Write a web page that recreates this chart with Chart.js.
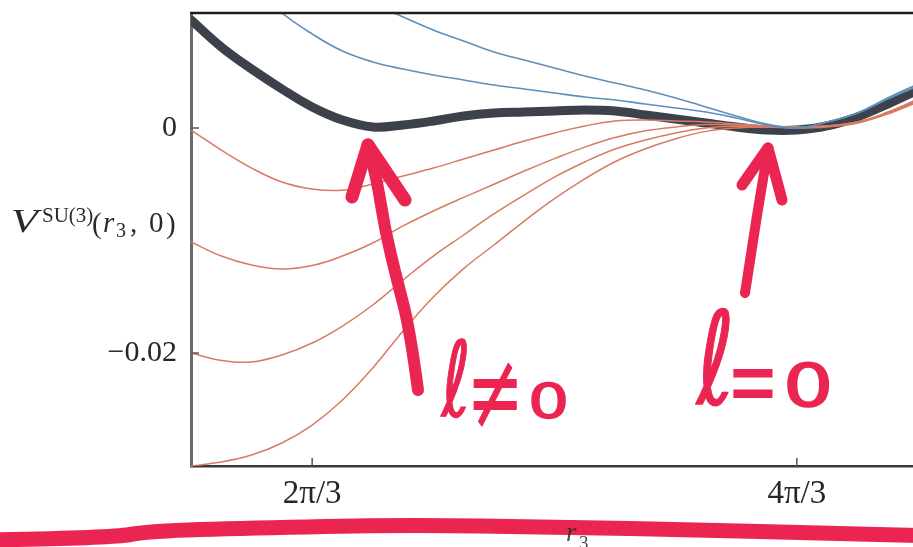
<!DOCTYPE html>
<html><head><meta charset="utf-8">
<script src="https://cdn.jsdelivr.net/npm/chart.js@4/dist/chart.umd.min.js"></script>
<style>
html,body{margin:0;padding:0;background:#fff;overflow:hidden;width:913px;height:547px}
#wrap{position:relative;width:930px;height:547px}
canvas{display:block}
</style></head>
<body><div id="wrap"><canvas id="c" width="930" height="547"></canvas></div>
<script>
// r3 sample positions (radians), from pi/2 to 3pi/2
const r3 = [1.5708, 1.7017, 1.8326, 1.9635, 2.0944, 2.2253, 2.3562, 2.4871, 2.6180, 2.7489,
            2.8798, 3.0107, 3.1416, 3.2725, 3.4034, 3.5343, 3.6652, 3.7961, 3.9270, 4.0579,
            4.1888, 4.3197, 4.4506, 4.5815, 4.7124];
// thick dark curve
const vBlack = [0.00960, 0.00720, 0.00524, 0.00347, 0.00187, 0.00071, 0.00009, 0.00027, 0.00062, 0.00107,
                0.00133, 0.00142, 0.00151, 0.00160, 0.00151, 0.00116, 0.00080, 0.00044, 0.00009, -0.00018,
                -0.00018, 0.00018, 0.00098, 0.00213, 0.00338];
// blue curves (above)
const vBlue1 = [0.01804, 0.01538, 0.01271, 0.01022, 0.00836, 0.00684, 0.00587, 0.00524, 0.00471, 0.00427,
                0.00382, 0.00347, 0.00311, 0.00276, 0.00249, 0.00213, 0.00178, 0.00142, 0.00089, 0.00027,
                0.00000, 0.00053, 0.00133, 0.00258, 0.00373];
const vBlue2 = [0.02071, 0.01893, 0.01716, 0.01547, 0.01387, 0.01244, 0.01111, 0.00987, 0.00871, 0.00773,
                0.00676, 0.00604, 0.00533, 0.00462, 0.00400, 0.00338, 0.00267, 0.00187, 0.00107, 0.00036,
                0.00000, 0.00053, 0.00133, 0.00267, 0.00391];
// red curves (below)
const vRed1 = [-0.00018, -0.00196, -0.00356, -0.00480, -0.00542, -0.00553, -0.00498, -0.00427, -0.00356, -0.00276,
               -0.00196, -0.00116, -0.00044, 0.00018, 0.00062, 0.00071, 0.00062, 0.00053, 0.00036, 0.00018,
               0.00009, 0.00018, 0.00053, 0.00142, 0.00258];
const vRed2 = [-0.01013, -0.01138, -0.01218, -0.01253, -0.01222, -0.01138, -0.01022, -0.00870, -0.00738, -0.00617,
               -0.00500, -0.00382, -0.00272, -0.00170, -0.00085, -0.00025, 0.00009, 0.00030, 0.00027, 0.00018,
               0.00009, 0.00018, 0.00053, 0.00133, 0.00249];
const vRed3 = [-0.02000, -0.02066, -0.02080, -0.02018, -0.01911, -0.01760, -0.01573, -0.01351, -0.01138, -0.00951,
               -0.00764, -0.00596, -0.00436, -0.00302, -0.00187, -0.00107, -0.00044, 0.00000, 0.00015, 0.00009,
               0.00009, 0.00018, 0.00044, 0.00133, 0.00240];
const vRed4 = [-0.03004, -0.02969, -0.02907, -0.02800, -0.02640, -0.02418, -0.02133, -0.01804, -0.01502, -0.01250,
               -0.01040, -0.00827, -0.00628, -0.00452, -0.00300, -0.00185, -0.00095, -0.00030, 0.00000, 0.00009,
               0.00000, 0.00009, 0.00044, 0.00124, 0.00231];
// ticks
const xTickValues = [2.0944, 4.1888];
const xTickLabels = ['2π/3', '4π/3'];
const yTickValues = [0, -0.02];
const yTickLabels = ['0', '−0.02'];

const pts = arr => r3.map((x, i) => ({x: x, y: arr[i]}));
const base = {pointRadius: 0, fill: false, tension: 0.4, clip: 0,
              borderCapStyle: 'round', borderJoinStyle: 'round'};
const RED = '#d97a63', BLUE = '#5d8fbd', DARK = '#3d414b', INK = '#eb2552';

function fitText(ctx, text, font, x0, y0, x1, y1, color, extraStroke) {
  ctx.save();
  ctx.font = font;
  const m = ctx.measureText(text);
  const w = m.actualBoundingBoxLeft + m.actualBoundingBoxRight;
  const h = m.actualBoundingBoxAscent + m.actualBoundingBoxDescent;
  ctx.translate(x0, y0);
  ctx.scale((x1 - x0) / w, (y1 - y0) / h);
  ctx.textAlign = 'left'; ctx.textBaseline = 'alphabetic';
  ctx.fillStyle = color;
  ctx.fillText(text, m.actualBoundingBoxLeft, m.actualBoundingBoxAscent);
  if (extraStroke) {
    ctx.strokeStyle = color; ctx.lineWidth = extraStroke; ctx.lineJoin = 'round';
    ctx.strokeText(text, m.actualBoundingBoxLeft, m.actualBoundingBoxAscent);
  }
  ctx.restore();
}
function polyStroke(ctx, p, w, color) {
  ctx.save();
  ctx.strokeStyle = color; ctx.lineWidth = w; ctx.lineCap = 'round'; ctx.lineJoin = 'round';
  ctx.beginPath(); ctx.moveTo(p[0][0], p[0][1]);
  if (p.length > 2) {
    for (let i = 1; i < p.length - 1; i++) {
      const mx = (p[i][0] + p[i + 1][0]) / 2, my = (p[i][1] + p[i + 1][1]) / 2;
      ctx.quadraticCurveTo(p[i][0], p[i][1], mx, my);
    }
    const l = p[p.length - 1]; ctx.lineTo(l[0], l[1]);
  } else { ctx.lineTo(p[1][0], p[1][1]); }
  ctx.stroke(); ctx.restore();
}

const decor = {
  id: 'decor',
  afterDraw(chart) {
    const ctx = chart.ctx, ca = chart.chartArea;
    const xs = chart.scales.x, ys = chart.scales.y;
    ctx.save();
    // top frame
    ctx.strokeStyle = '#1e1e1e'; ctx.lineWidth = 2.5;
    ctx.beginPath(); ctx.moveTo(ca.left - 1, ca.top); ctx.lineTo(ca.right + 2, ca.top); ctx.stroke();
    // inner tick marks
    ctx.strokeStyle = '#555'; ctx.lineWidth = 1.5;
    yTickValues.forEach(v => { const y = ys.getPixelForValue(v);
      ctx.beginPath(); ctx.moveTo(ca.left, y); ctx.lineTo(ca.left + 8, y); ctx.stroke(); });
    xTickValues.forEach(v => { const x = xs.getPixelForValue(v);
      ctx.beginPath(); ctx.moveTo(x, ca.bottom); ctx.lineTo(x, ca.bottom - 8); ctx.stroke(); });
    ctx.restore();

    // y-axis title  V^{SU(3)}(r3, 0)
    ctx.save();
    ctx.fillStyle = '#2a2a2a'; ctx.textBaseline = 'alphabetic'; ctx.textAlign = 'left';
    fitText(ctx, 'V', 'italic 40px "Liberation Serif"', 13, 210, 43, 233, '#2a2a2a');
    ctx.font = '21px "Liberation Serif"'; ctx.fillText('SU(3)', 42, 222);
    ctx.font = '29px "Liberation Serif"'; ctx.fillText('(', 92, 233);
    ctx.font = 'italic 29px "Liberation Serif"'; ctx.fillText('r', 103, 232);
    ctx.font = '20px "Liberation Serif"'; ctx.fillText('3', 116, 237);
    ctx.font = '29px "Liberation Serif"'; ctx.fillText(',', 130, 232);
    ctx.fillText('0', 149, 232); ctx.fillText(')', 166, 233);
    ctx.restore();

    // bottom marker underline
    polyStroke(ctx, [[-10, 540], [110, 538], [150, 531], [250, 528], [400, 525], [560, 527], [700, 530], [820, 533], [935, 536]], 15, INK);
    // x-axis title r3
    ctx.save();
    ctx.globalAlpha = 0.85; ctx.fillStyle = '#2c2c2c';
    ctx.font = 'italic 27px "Liberation Serif"'; ctx.fillText('r', 566, 541);
    ctx.font = '19px "Liberation Serif"'; ctx.fillText('3', 579, 549);
    ctx.restore();

    // arrows (hand-drawn annotation)
    polyStroke(ctx, [[418, 390], [410, 330], [397, 280], [385, 230], [377, 180], [368, 147]], 12, INK);
    polyStroke(ctx, [[368, 145], [352, 197]], 13, INK);
    polyStroke(ctx, [[368, 145], [405, 200]], 13, INK);
    polyStroke(ctx, [[745, 293], [752, 247], [760, 197], [768, 150]], 10, INK);
    polyStroke(ctx, [[768, 148], [742, 185]], 11, INK);
    polyStroke(ctx, [[768, 148], [782, 200]], 11, INK);
    // handwritten labels
    fitText(ctx, 'ℓ', '100px "DejaVu Sans"', 440, 338, 467, 418, INK, 1);
    fitText(ctx, '≠', '100px "DejaVu Sans"', 473, 362, 517, 428, INK, 0);
    fitText(ctx, '0', '100px "DejaVu Sans"', 532, 382, 565, 418, INK, 3);
    fitText(ctx, 'ℓ', '100px "DejaVu Sans"', 695, 308, 730, 407, INK, 1);
    fitText(ctx, '=', '100px "DejaVu Sans"', 733, 368, 773, 398, INK, 0);
    fitText(ctx, '0', '100px "DejaVu Sans"', 788, 363, 828, 407, INK, 3);
  }
};

new Chart(document.getElementById('c'), {
  type: 'line',
  data: {
    datasets: [
      Object.assign({label: 'blue 1', data: pts(vBlue1), borderColor: BLUE, borderWidth: 1.6, order: 1}, base),
      Object.assign({label: 'blue 2', data: pts(vBlue2), borderColor: BLUE, borderWidth: 1.6, order: 1}, base),
      Object.assign({label: 'red 1', data: pts(vRed1), borderColor: RED, borderWidth: 1.5, order: 2}, base),
      Object.assign({label: 'red 2', data: pts(vRed2), borderColor: RED, borderWidth: 1.5, order: 2}, base),
      Object.assign({label: 'red 3', data: pts(vRed3), borderColor: RED, borderWidth: 1.5, order: 2}, base),
      Object.assign({label: 'red 4', data: pts(vRed4), borderColor: RED, borderWidth: 1.5, order: 2}, base),
      Object.assign({label: 'total', data: pts(vBlack), borderColor: DARK, borderWidth: 9, order: 3}, base)
    ]
  },
  options: {
    responsive: false, animation: false, devicePixelRatio: 1,
    layout: {padding: {top: 13, right: 12, left: 0, bottom: 0}},
    plugins: {legend: {display: false}, tooltip: {enabled: false}},
    scales: {
      x: {
        type: 'linear', min: 1.5708, max: 4.7124,
        afterBuildTicks: s => { s.ticks = xTickValues.map(v => ({value: v})); },
        afterFit: s => { s.height = 81; s.paddingLeft = 0; s.paddingRight = 0; },
        ticks: {
          callback: v => { const i = xTickValues.findIndex(t => Math.abs(t - v) < 1e-3); return i >= 0 ? xTickLabels[i] : ''; },
          font: {family: '"Liberation Serif"', size: 33}, color: '#262626', padding: 9,
          maxRotation: 0, autoSkip: false
        },
        grid: {display: false, drawTicks: false},
        border: {display: true, color: '#3a3a3a', width: 2.5}
      },
      y: {
        type: 'linear', min: -0.03004, max: 0.01022,
        afterBuildTicks: s => { s.ticks = yTickValues.map(v => ({value: v})); },
        afterFit: s => { s.width = 191; s.paddingTop = 0; s.paddingBottom = 0; },
        ticks: {
          callback: v => { const i = yTickValues.findIndex(t => Math.abs(t - v) < 1e-6); return i >= 0 ? yTickLabels[i] : ''; },
          font: {family: '"Liberation Serif"', size: 30}, color: '#262626', padding: 14, autoSkip: false
        },
        grid: {display: false, drawTicks: false},
        border: {display: true, color: '#6b6b6b', width: 3}
      }
    }
  },
  plugins: [decor]
});
</script>
</body></html>
